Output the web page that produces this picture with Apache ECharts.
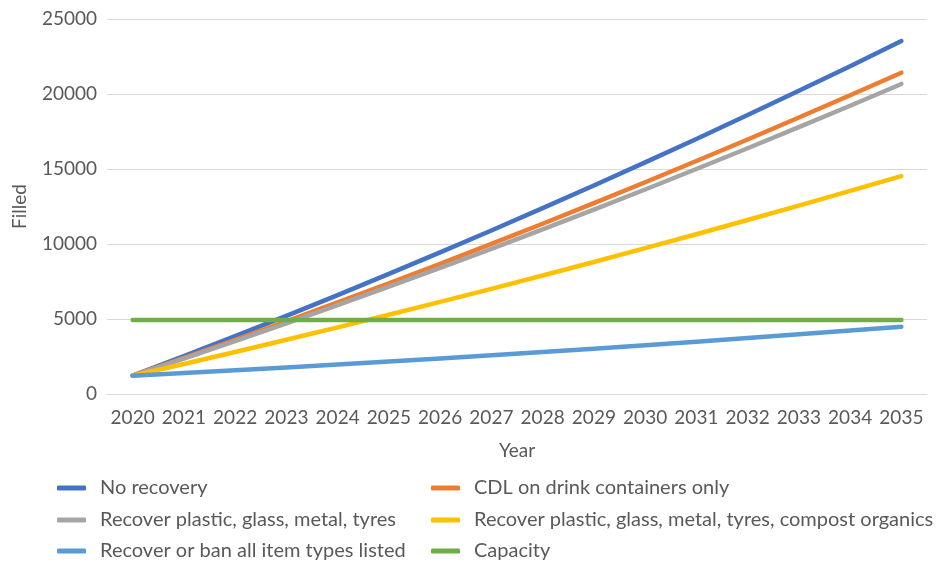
<!DOCTYPE html>
<html>
<head>
<meta charset="utf-8">
<script src="https://cdn.jsdelivr.net/npm/echarts@6/dist/echarts.min.js"></script>
<style>
  html, body { margin: 0; padding: 0; background: #ffffff; }
  #chart { width: 949px; height: 565px; }
</style>
</head>
<body>
<div id="chart"></div>
<script>
// Projected landfill volume filled, by recovery scenario
const years = ['2020', '2021', '2022', '2023', '2024', '2025', '2026', '2027',
               '2028', '2029', '2030', '2031', '2032', '2033', '2034', '2035'];

const noRecovery   = [1220, 2525, 3856, 5213, 6596, 8005, 9440, 10901, 12388, 13901, 15440, 17005, 18596, 20213, 21856, 23530];
const cdlOnly      = [1220, 2406, 3615, 4847, 6102, 7380, 8681, 10005, 11352, 12722, 14115, 15531, 16970, 18432, 19917, 21420];
const recoverPGMT  = [1220, 2363, 3527, 4714, 5922, 7153, 8405, 9680, 10976, 12295, 13635, 14998, 16382, 17789, 19217, 20670];
const recoverPlusOrganics = [1220, 2003, 2800, 3613, 4440, 5283, 6140, 7013, 7900, 8803, 9720, 10653, 11600, 12563, 13540, 14530];
const recoverOrBanAll = [1220, 1396, 1578, 1766, 1960, 2160, 2366, 2578, 2796, 3020, 3250, 3486, 3728, 3976, 4230, 4490];
const capacity     = [4930, 4930, 4930, 4930, 4930, 4930, 4930, 4930, 4930, 4930, 4930, 4930, 4930, 4930, 4930, 4930];

const seriesNames = [
  'No recovery',
  'CDL on drink containers only',
  'Recover plastic, glass, metal, tyres',
  'Recover plastic, glass, metal, tyres, compost organics',
  'Recover or ban all item types listed',
  'Capacity'
];
const seriesData = [noRecovery, cdlOnly, recoverPGMT, recoverPlusOrganics, recoverOrBanAll, capacity];
const colors = ['#4472C4', '#ED7D31', '#A5A5A5', '#FFC000', '#5B9BD5', '#70AD47'];

const FONT = 'Lato';
const TEXT = '#595959';

// legend laid out as two columns of three rows, one component per entry
const legendCols = [57, 431];
const legendRows = [478, 510, 541];

const legends = seriesNames.map((name, i) => ({
  left: legendCols[i % 2],
  top: legendRows[Math.floor(i / 2)],
  orient: 'horizontal',
  padding: 0,
  data: [name],
  itemWidth: 29,
  itemHeight: 5,
  icon: 'roundRect',
  selectedMode: false,
  textStyle: { fontFamily: FONT, fontSize: 20, color: TEXT, lineHeight: 20, padding: [0, 0, 0, 9] }
}));

const chart = echarts.init(document.getElementById('chart'), null, { renderer: 'canvas' });

chart.setOption({
  animation: false,
  color: colors,
  grid: { left: 107, right: 22, top: 19, bottom: 171, containLabel: false, outerBoundsMode: 'none' },
  legend: legends,
  xAxis: {
    type: 'category',
    data: years,
    boundaryGap: true,
    name: 'Year',
    nameLocation: 'middle',
    nameGap: 47,
    nameTextStyle: { fontFamily: FONT, fontSize: 19, color: TEXT },
    axisLine: { show: true, lineStyle: { color: '#D9D9D9', width: 1 } },
    axisTick: { show: false },
    axisLabel: { fontFamily: FONT, fontSize: 19, color: TEXT, margin: 14, interval: 0 }
  },
  yAxis: {
    type: 'value',
    min: 0,
    max: 25000,
    interval: 5000,
    name: 'Filled',
    nameLocation: 'middle',
    nameGap: 78,
    nameRotate: 90,
    nameTextStyle: { fontFamily: FONT, fontSize: 19, color: TEXT },
    axisLine: { show: false },
    axisTick: { show: false },
    axisLabel: { fontFamily: FONT, fontSize: 19, color: TEXT, margin: 10, formatter: v => String(v) },
    splitLine: { lineStyle: { color: '#D9D9D9', width: 1 } }
  },
  series: seriesNames.map((name, i) => ({
    name: name,
    type: 'line',
    data: seriesData[i],
    showSymbol: false,
    symbol: 'none',
    lineStyle: { width: 4.5, color: colors[i], cap: 'round', join: 'round' },
    itemStyle: { color: colors[i] },
    z: 2 + i
  }))
});
</script>
</body>
</html>
